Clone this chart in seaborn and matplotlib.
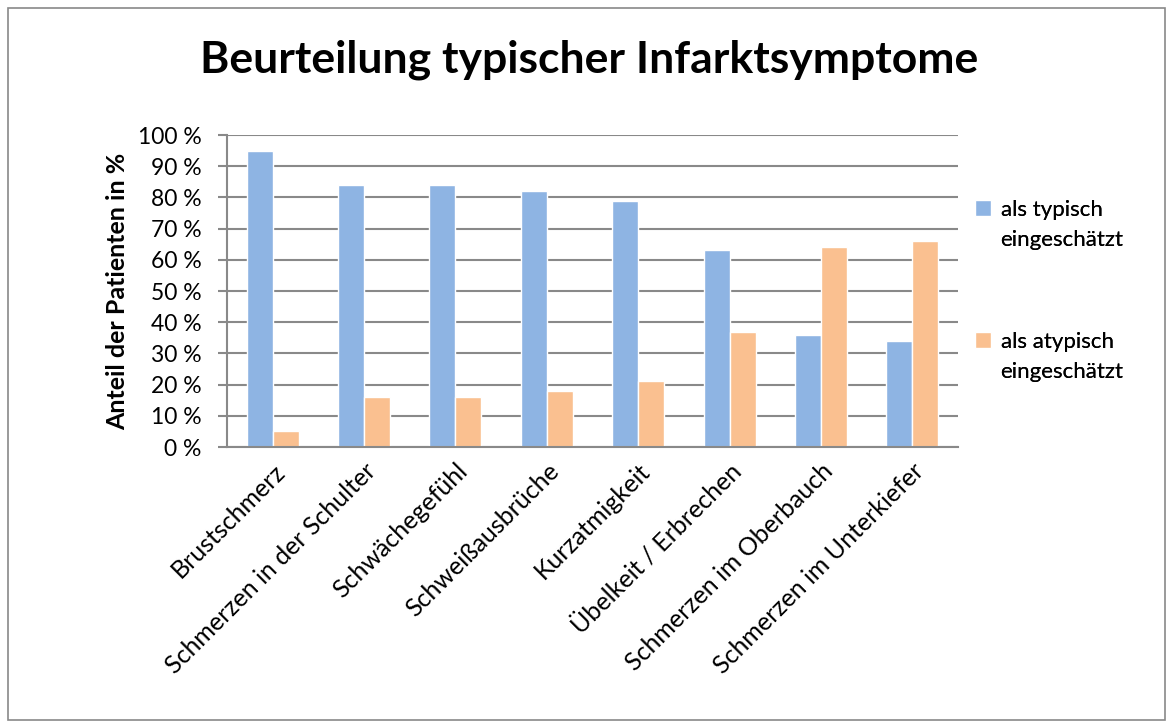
import matplotlib
matplotlib.use("Agg")
import matplotlib.pyplot as plt
import seaborn as sns
import pandas as pd
from matplotlib.patches import Rectangle

# Daten aus dem Diagramm
symptome = ['Brustschmerz', 'Schmerzen in der Schulter', 'Schwächegefühl',
            'Schweißausbrüche', 'Kurzatmigkeit', 'Übelkeit / Erbrechen',
            'Schmerzen im Oberbauch', 'Schmerzen im Unterkiefer']
typisch = [95, 84, 84, 82, 79, 63, 36, 34]
atypisch = [5, 16, 16, 18, 21, 37, 64, 66]
serien = ['als typisch\neingeschätzt', 'als atypisch\neingeschätzt']
farben = ['#8EB4E3', '#FAC090']

df = pd.DataFrame({
    'symptom': symptome * 2,
    'wert': typisch + atypisch,
    'serie': [serien[0]] * len(symptome) + [serien[1]] * len(symptome),
})

sns.set_theme(style="white")
plt.rcParams['font.family'] = ['Lato', 'DejaVu Sans']
plt.rcParams['text.color'] = 'black'
plt.rcParams['xtick.color'] = 'black'
plt.rcParams['ytick.color'] = 'black'
plt.rcParams['axes.labelcolor'] = 'black'

grau = '#898989'

fig = plt.figure(figsize=(11.67, 7.22), dpi=100)
ax = fig.add_axes([227 / 1167, 1 - 447 / 722, (958 - 227) / 1167, (447 - 135) / 722])

sns.barplot(ax=ax, data=df, x='symptom', y='wert', hue='serie',
            palette=farben, width=0.57, saturation=1, errorbar=None, legend=True)

ax.set_ylim(0, 100)
ax.set_yticks(range(0, 101, 10))
ax.set_yticklabels([f'{v} %' for v in range(0, 101, 10)], fontsize=16.5)
ax.yaxis.grid(True, color=grau, linewidth=1.5)
ax.set_axisbelow(True)
ax.tick_params(axis='y', length=6.5, width=1.5, color=grau, direction='out', pad=12, left=True)
ax.tick_params(axis='x', length=0, pad=9)
for s in ['top', 'right']:
    ax.spines[s].set_visible(False)
for s in ['left', 'bottom']:
    ax.spines[s].set_color(grau)
    ax.spines[s].set_linewidth(1.5)

ax.set_xticks(range(len(symptome)))
ax.set_xticklabels(symptome, rotation=45, ha='right', rotation_mode='anchor', fontsize=18)
ax.set_xlabel('')
ax.set_ylabel('Anteil der Patienten in %', fontsize=18, fontweight='bold', labelpad=6)

fig.text(589 / 1167, 1 - 60 / 722, 'Beurteilung typischer Infarktsymptome',
         ha='center', va='center', fontsize=32, fontweight='bold')

# Legende: je Serie zwei Zeilen, Farbfeld neben der ersten Zeile
handles, labels = ax.get_legend_handles_labels()
ax.get_legend().remove()
leer = Rectangle((0, 0), 1, 1, fc='none', ec='none')
oben = [200, 332]
for h, lab, y in zip(handles, labels, oben):
    zeile1, zeile2 = lab.split('\n')
    leg = fig.legend([h, leer], [zeile1, zeile2], loc='upper left',
                     bbox_to_anchor=(975 / 1167, 1 - y / 722), frameon=False,
                     fontsize=16, handlelength=0.7, handleheight=0.7, handletextpad=0.45,
                     labelspacing=0.45, borderpad=0, borderaxespad=0)
    fig.add_artist(leg)

# Rahmen um das Diagramm
fig.patches.append(Rectangle((8 / 1167, 2 / 722), 1 - 10 / 1167, 1 - 10 / 722,
                             transform=fig.transFigure, fill=False,
                             edgecolor=grau, linewidth=1.2))

plt.savefig('out.png', dpi=100)
